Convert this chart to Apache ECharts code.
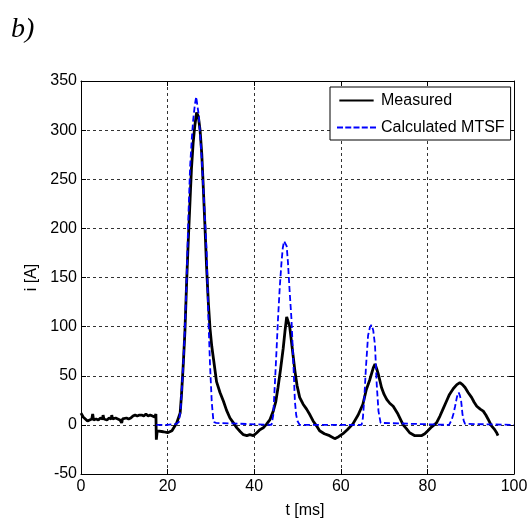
<!DOCTYPE html>
<html>
<head>
<meta charset="utf-8">
<script src="https://cdn.jsdelivr.net/npm/echarts@6/dist/echarts.min.js"></script>
<style>html,body{margin:0;padding:0;background:#fff;}#c{width:529px;height:521px;}</style>
</head>
<body>
<div id="c"></div>
<script>
// Tick labels / axis ranges
const xTicks = [0, 20, 40, 60, 80, 100];
const yTicks = [-50, 0, 50, 100, 150, 200, 250, 300, 350];

// Measured current (black)
const measuredT = [0, 0.5, 1, 1.5, 2, 2.5, 2.7, 2.9, 3.5, 4, 4.5, 5, 5.1, 5.3, 6, 6.5, 7, 7.1, 7.3, 8, 8.5, 9, 9.4, 9.6, 10, 10.5, 11, 11.5, 12, 12.5, 13, 13.5, 14, 14.5, 15, 15.5, 16, 16.5, 17, 17.3, 17.4, 17.6, 18, 19, 20, 21, 22.1, 22.9, 23.2, 23.6, 24, 24.4, 24.8, 25.2, 25.5, 25.9, 26.3, 26.7, 27.1, 27.5, 27.9, 28.2, 28.6, 29.0, 29.4, 29.8, 30.2, 30.6, 31.3, 32.1, 32.9, 33.6, 34.4, 35.2, 36.0, 36.8, 37.5, 38.3, 39.0, 39.8, 40.6, 41.3, 42.1, 42.9, 43.6, 44.4, 45.0, 45.5, 46.1, 46.7, 47.1, 47.5, 47.9, 48.2, 48.6, 49.0, 49.4, 49.9, 50.5, 51.3, 52.1, 52.9, 53.6, 54.4, 55.1, 56.2, 57.4, 58.6, 59.5, 60.5, 61.5, 62.8, 64.0, 65.1, 65.9, 66.7, 67.5, 67.9, 68.3, 68.7, 69.4, 70.0, 70.6, 71.3, 72.1, 73.2, 74.4, 75.2, 75.9, 77.1, 78.6, 79.4, 80.1, 81.0, 82.1, 82.9, 83.6, 84.4, 85.1, 86.0, 86.8, 87.5, 88.1, 88.7, 89.4, 90.2, 90.8, 91.4, 92.2, 92.9, 93.5, 94.0, 94.8, 95.4, 96.0, 96.3];
const measuredI = [12, 8, 6, 4, 5, 6, 11, 5, 6, 5, 7, 6, 10, 6, 5, 7, 6, 10, 6, 7, 6, 5, 2, 6, 6, 7, 6, 7, 9, 10, 9, 10, 10, 9, 11, 9, 10, 9, 8, 11, -15, -6, -5, -7, -8, -6, 2, 12, 30, 60, 95, 146, 190, 230, 260, 287, 305, 318, 314, 300, 275, 246, 205, 161, 125, 98, 80, 67, 44, 33, 24, 15, 7, 2, -3, -7, -10, -11, -10, -11, -8, -5, -3, 1, 5, 14, 24, 38, 57, 78, 95, 110, 112, 100, 85, 70, 55, 40, 28, 21, 16, 10, 4, -1, -6, -9, -11, -14, -12, -9, -5, 1, 10, 21, 36, 46, 58, 62, 57, 51, 38, 31, 26, 22, 19, 11, 0, -4, -8, -11, -11, -9, -6, -2, 2, 9, 16, 24, 31, 37, 41, 43, 41, 38, 33, 28, 23, 19, 16, 14, 10, 6, -1, -4, -8, -11];

// Calculated MTSF current (blue dashed)
const calcT = [17.4, 20, 22, 22.6, 23.0, 23.2, 23.6, 24.0, 24.4, 24.8, 25.2, 25.6, 25.9, 26.3, 26.6, 26.9, 27.2, 27.5, 27.9, 28.2, 28.6, 29.0, 29.4, 29.8, 30.2, 30.6, 31.2, 31.6, 44.0, 44.4, 44.8, 45.2, 45.5, 45.9, 46.3, 46.6, 46.9, 47.2, 47.5, 47.8, 48.1, 48.6, 49.0, 49.4, 49.7, 50.0, 50.5, 64.8, 65.1, 65.4, 65.8, 66.3, 66.7, 67.1, 67.5, 67.9, 68.3, 68.7, 69.2, 69.6, 85.0, 85.2, 85.6, 86.0, 86.4, 86.8, 87.2, 87.5, 87.8, 88.1, 88.4, 88.7, 89.0, 100];
const calcI = [0, 0, 1, 3, 15, 30, 60, 98, 148, 212, 263, 292, 310, 326, 334, 332, 315, 296, 270, 246, 212, 178, 111, 61, 23, 3, 2, 0, 0, 10, 44, 80, 108, 140, 165, 180, 187, 186, 182, 165, 142, 108, 68, 24, 10, 4, 0, 0, 7, 25, 58, 91, 99, 102, 96, 81, 41, 14, 2, 0, 0, 1, 5, 11, 19, 28, 33, 30, 24, 11, 4, 1, 0, 0];

const seriesNames = ['Measured', 'Calculated MTSF'];

const measuredData = measuredT.map((t, k) => [t, measuredI[k]]);
const calcData = calcT.map((t, k) => [t, calcI[k]]);

const FONT = '"Liberation Sans", Arial, sans-serif';
const FS = 16;
const xMin = xTicks[0], xMax = xTicks[xTicks.length - 1], xInt = xTicks[1] - xTicks[0];
const yMin = yTicks[0], yMax = yTicks[yTicks.length - 1], yInt = yTicks[1] - yTicks[0];

const chart = echarts.init(document.getElementById('c'), null, {renderer: 'canvas'});
const baseAxisLine = {show: true, onZero: false, lineStyle: {color: '#000', width: 1}};
const tick = {show: true, inside: true, length: 5, lineStyle: {color: '#000'}};
const grid = {show: true, lineStyle: {color: '#333', type: [3, 3], width: 1}};

const solidIcon = 'path://M0,0H39V2.5H0Z';
const dashIcon = 'path://M0,0H6V2H0Z M8.25,0H14.25V2H8.25Z M16.5,0H22.5V2H16.5Z M24.75,0H30.75V2H24.75Z M33,0H39V2H33Z';

chart.setOption({
  animation: false,
  backgroundColor: '#fff',
  title: {
    text: 'b)', left: 6, top: 11,
    textStyle: {fontFamily: '"Liberation Serif", "Times New Roman", serif', fontStyle: 'italic', fontWeight: 'normal', fontSize: 28, color: '#000'}
  },
  grid: {left: 81, right: 15, top: 81, bottom: 47, containLabel: false, outerBoundsMode: 'none'},
  legend: {
    data: [{name: seriesNames[0], icon: solidIcon}, {name: seriesNames[1], icon: dashIcon}],
    orient: 'vertical',
    left: 330, top: 87,
    padding: [4, 6, 3, 7],
    itemWidth: 39, itemHeight: 2.2, itemGap: 8,
    backgroundColor: '#fff',
    borderColor: '#000', borderWidth: 1, borderRadius: 0,
    textStyle: {fontFamily: FONT, fontSize: FS, color: '#000', lineHeight: 19}
  },
  xAxis: [{
    type: 'value', min: xMin, max: xMax, interval: xInt, position: 'bottom',
    name: 't [ms]', nameLocation: 'middle', nameGap: 29,
    nameTextStyle: {fontFamily: FONT, fontSize: FS, color: '#000', padding: [0, 0, 0, 15]},
    axisLine: baseAxisLine, axisTick: tick, splitLine: grid,
    axisLabel: {fontFamily: FONT, fontSize: FS, color: '#000', margin: 5}
  }, {
    type: 'value', min: xMin, max: xMax, interval: xInt, position: 'top',
    axisLine: baseAxisLine, axisTick: tick, splitLine: {show: false}, axisLabel: {show: false}
  }],
  yAxis: [{
    type: 'value', min: yMin, max: yMax, interval: yInt, position: 'left',
    name: 'i [A]', nameLocation: 'middle', nameGap: 37, nameRotate: 90,
    nameTextStyle: {fontFamily: FONT, fontSize: FS, color: '#000'},
    axisLine: baseAxisLine, axisTick: tick, splitLine: grid,
    axisLabel: {fontFamily: FONT, fontSize: FS, color: '#000', margin: 4}
  }, {
    type: 'value', min: yMin, max: yMax, interval: yInt, position: 'right',
    axisLine: baseAxisLine, axisTick: tick, splitLine: {show: false}, axisLabel: {show: false}
  }],
  series: [{
    name: seriesNames[0], type: 'line', data: measuredData,
    xAxisIndex: 0, yAxisIndex: 0,
    symbol: 'none', showSymbol: false,
    lineStyle: {color: '#000', width: 2.8},
    itemStyle: {color: '#000'},
    z: 3
  }, {
    name: seriesNames[1], type: 'line', data: calcData,
    xAxisIndex: 0, yAxisIndex: 0,
    symbol: 'none', showSymbol: false,
    lineStyle: {color: '#0000ff', width: 1.8, type: [6, 3]},
    itemStyle: {color: '#0000ff'},
    z: 4
  }]
});
</script>
</body>
</html>
